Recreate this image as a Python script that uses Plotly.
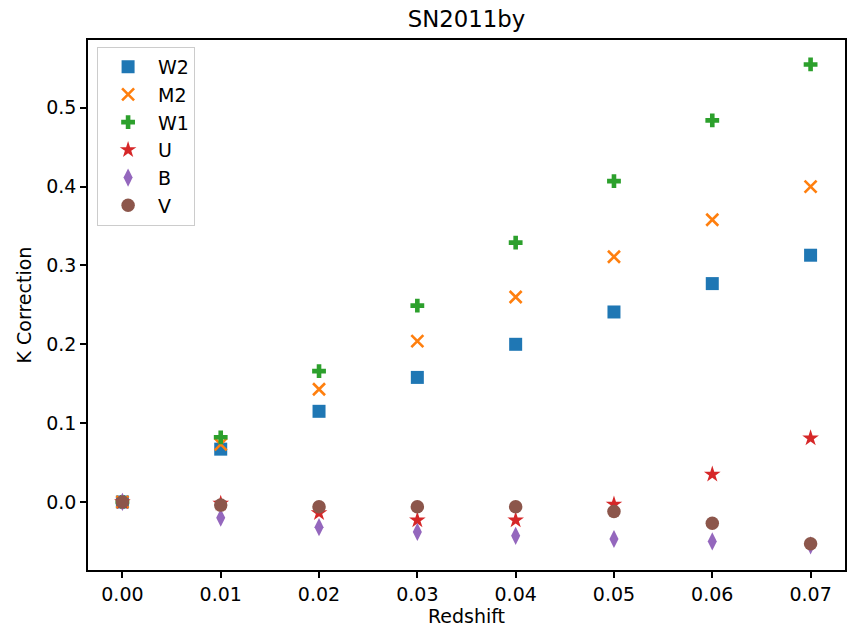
import plotly.graph_objects as go

redshift = [0.00, 0.01, 0.02, 0.03, 0.04, 0.05, 0.06, 0.07]
W2 = [0.000, 0.067, 0.115, 0.158, 0.200, 0.241, 0.277, 0.313]
M2 = [0.000, 0.073, 0.143, 0.204, 0.260, 0.311, 0.358, 0.400]
W1 = [0.000, 0.082, 0.166, 0.249, 0.329, 0.407, 0.484, 0.555]
U = [0.000, -0.002, -0.014, -0.023, -0.023, -0.003, 0.035, 0.081]
B = [0.000, -0.020, -0.032, -0.038, -0.043, -0.047, -0.050, -0.055]
V = [0.000, -0.004, -0.006, -0.006, -0.006, -0.012, -0.027, -0.053]

series = [
    ("W2", W2, "#1f77b4", "square", 13),
    ("M2", M2, "#ff7f0e", "x-thin", 12),
    ("W1", W1, "#2ca02c", "cross", 11.5),
    ("U", U, "#d62728", "star", 12.5),
    ("B", B, "#9467bd", "diamond-tall", 13),
    ("V", V, "#8c564b", "circle", 13.5),
]

fig = go.Figure()
for name, vals, col, sym, sz in series:
    if sym == "x-thin":
        marker = dict(symbol=sym, size=sz, color=col, line=dict(color=col, width=2.6))
    else:
        marker = dict(symbol=sym, size=sz, color=col, line=dict(width=0))
    fig.add_trace(go.Scatter(x=redshift, y=vals, mode="markers", name=name, marker=marker))

font = "DejaVu Sans, sans-serif"
fig.update_layout(
    width=848, height=628,
    margin=dict(l=88, r=1, t=40, b=58),
    paper_bgcolor="white", plot_bgcolor="white",
    font=dict(family=font, size=19, color="black"),
    title=dict(text="SN2011by", x=0.5, xanchor="center", xref="paper", y=1, yref="container", yanchor="top",
               pad=dict(t=11), font=dict(size=22.8)),
    legend=dict(x=0.012, y=0.987, xanchor="left", yanchor="top", bordercolor="#cccccc", borderwidth=1,
                bgcolor="rgba(255,255,255,0.8)", font=dict(size=19), itemwidth=50, tracegroupgap=0),
    xaxis=dict(range=[-0.0035, 0.0735], tickvals=redshift, ticktext=[f"{v:.2f}" for v in redshift],
               showgrid=False, zeroline=False, showline=True, linecolor="black", linewidth=1.5, mirror=True,
               ticks="outside", ticklen=6, tickwidth=1.5, tickcolor="black",
               title=dict(text="Redshift", font=dict(size=19), standoff=4)),
    yaxis=dict(range=[-0.0863, 0.586], tickvals=[0.0, 0.1, 0.2, 0.3, 0.4, 0.5], tickformat=".1f",
               showgrid=False, zeroline=False, showline=True, linecolor="black", linewidth=1.5, mirror=True,
               ticks="outside", ticklen=6, tickwidth=1.5, tickcolor="black",
               title=dict(text="K Correction", font=dict(size=19), standoff=10)),
)
fig.write_html("out.html")
